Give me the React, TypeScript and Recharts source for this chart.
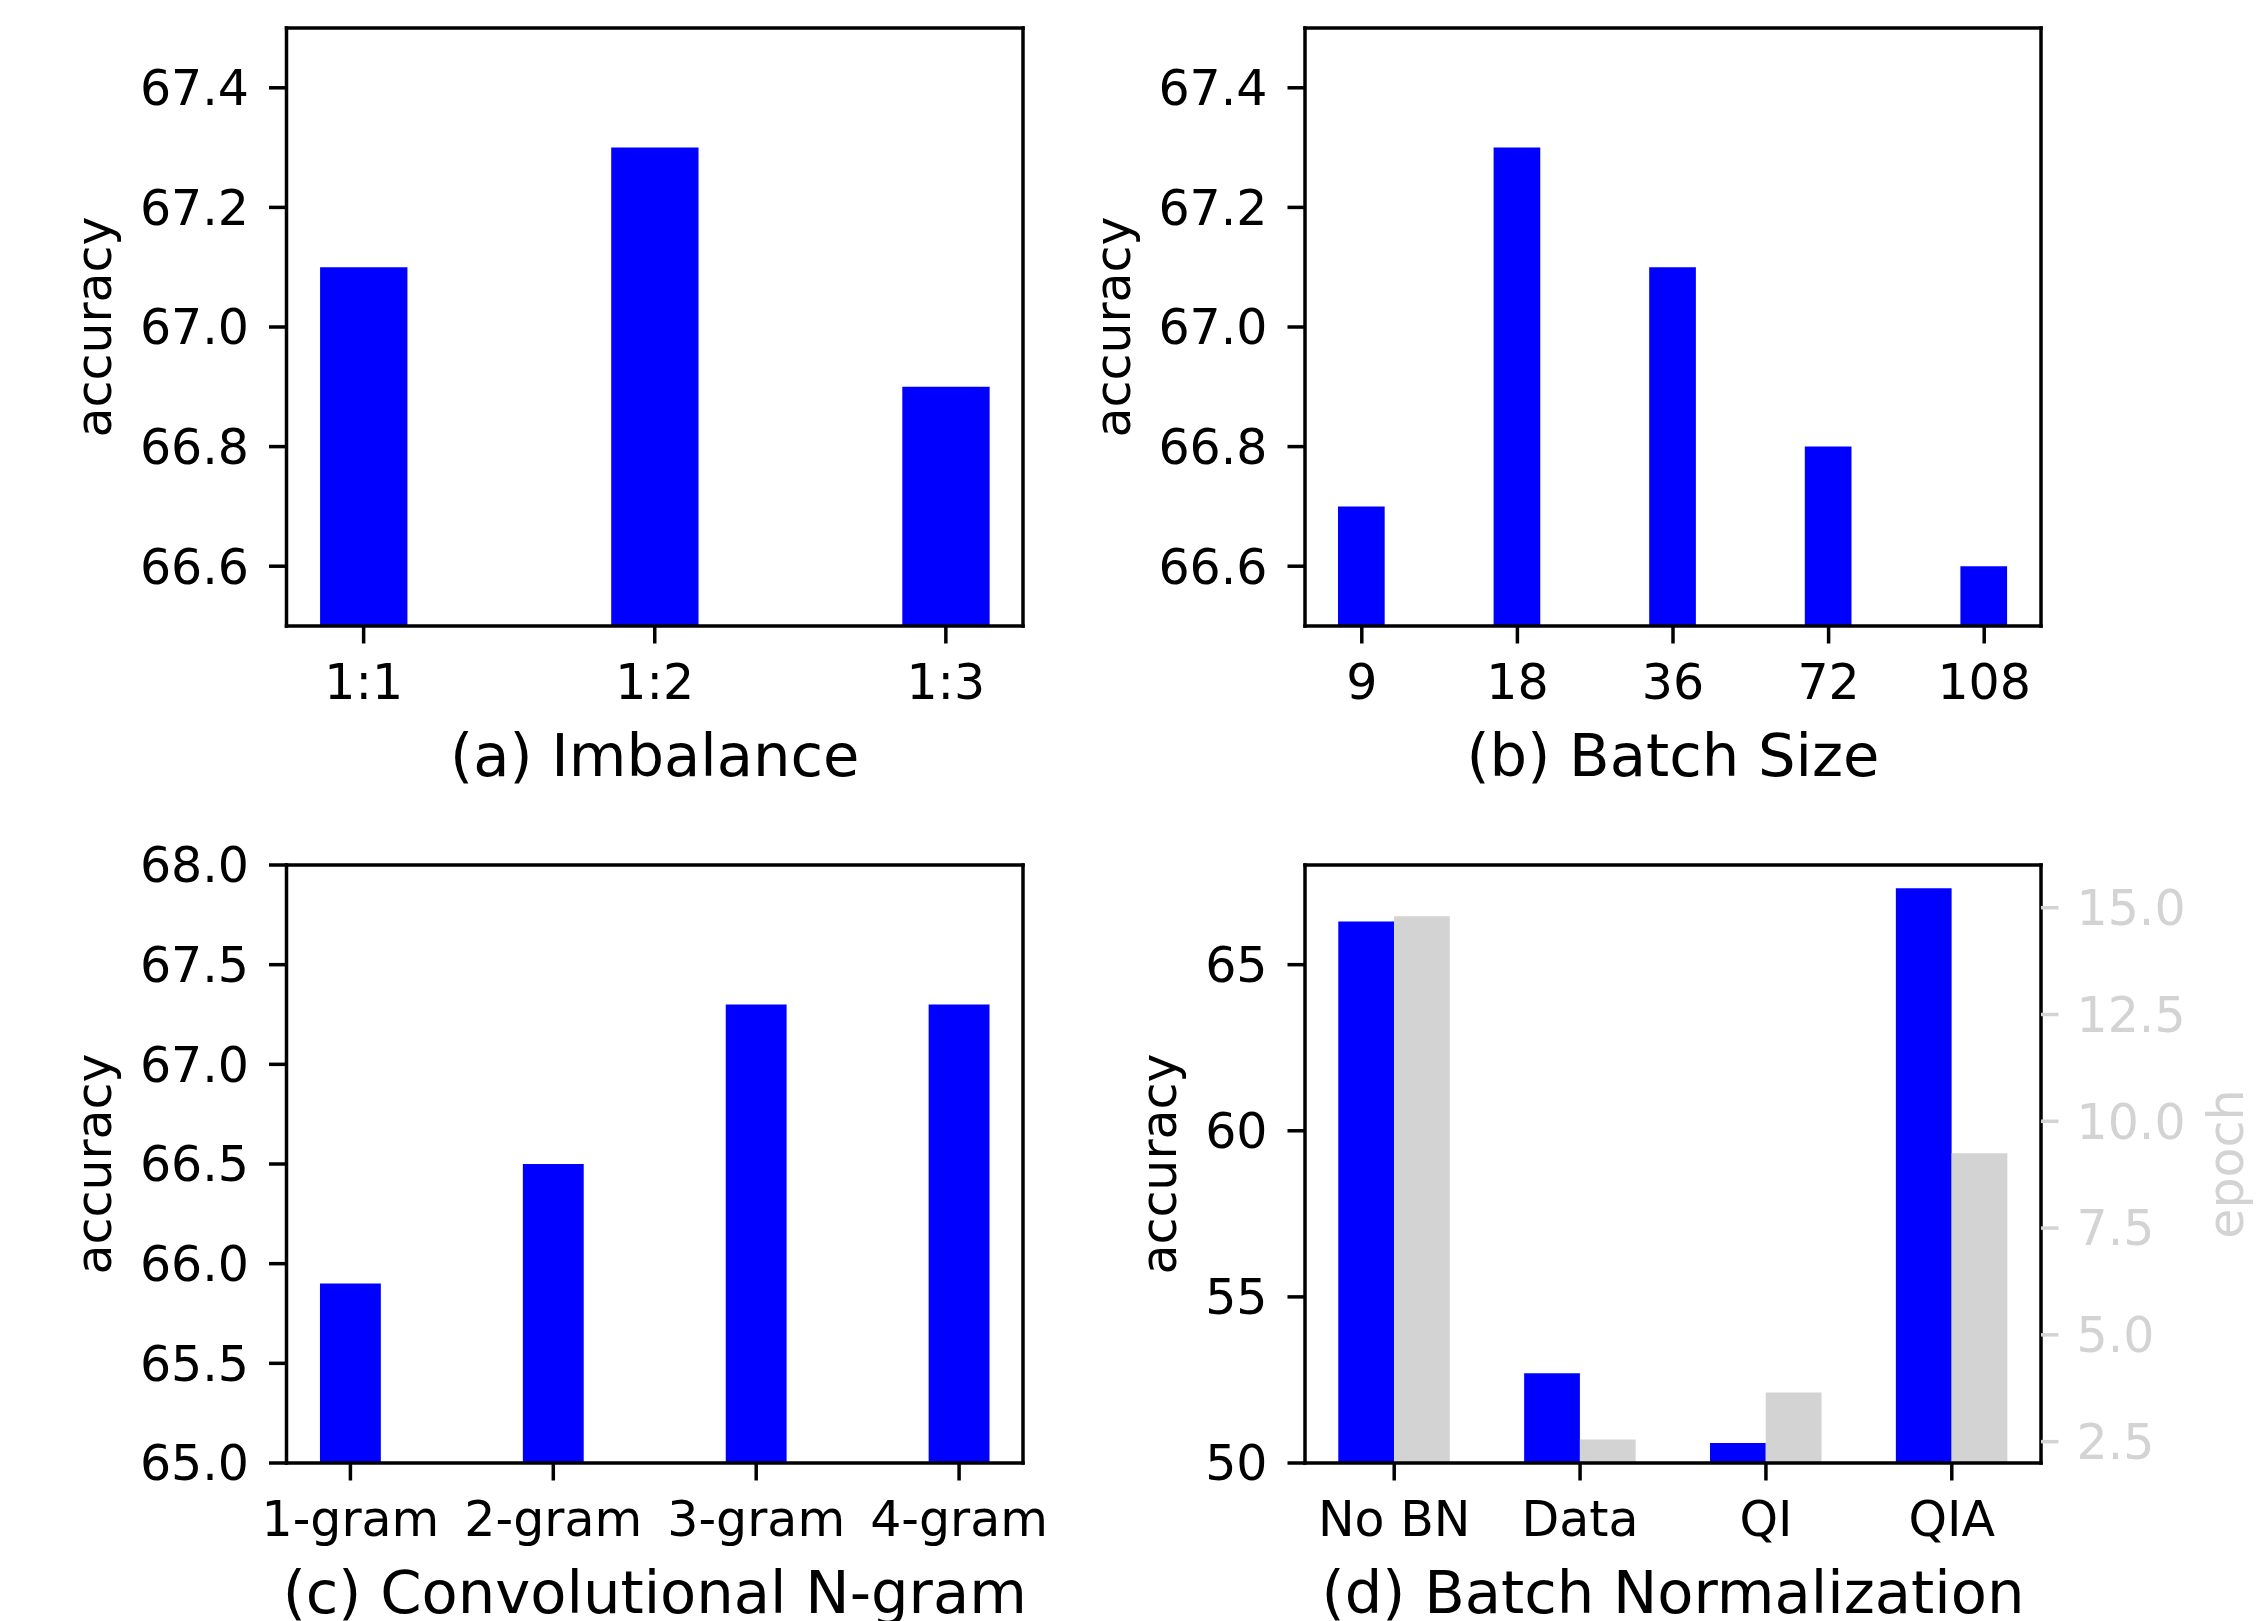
import React from 'react';
import { BarChart, Bar, XAxis, YAxis } from 'recharts';

const FONT = "'DejaVu Sans', 'Liberation Sans', sans-serif";
const BLUE = '#0000ff';
const GRAY = '#d3d3d3';
const TICK_FS = 49;
const LABEL_FS = 59.2;
const LW = 3.5;
const TICK_LEN = 17.5;

// ---- data ----
const imbalanceCats = ['1:1', '1:2', '1:3'];
const imbalanceAcc = [67.1, 67.3, 66.9];

const batchCats = ['9', '18', '36', '72', '108'];
const batchAcc = [66.7, 67.3, 67.1, 66.8, 66.6];

const ngramCats = ['1-gram', '2-gram', '3-gram', '4-gram'];
const ngramAcc = [65.9, 66.5, 67.3, 67.3];

const bnCats = ['No BN', 'Data', 'QI', 'QIA'];
const bnAcc = [66.3, 52.7, 50.6, 67.3];
const bnEpoch = [14.8, 2.55, 3.65, 9.25];

const ticksAB = [66.6, 66.8, 67.0, 67.2, 67.4];
const ticksC = [65.0, 65.5, 66.0, 66.5, 67.0, 67.5, 68.0];
const ticksDLeft = [50, 55, 60, 65];
const ticksDRight = [2.5, 5.0, 7.5, 10.0, 12.5, 15.0];

type Series = { values: number[]; color: string; axis: 'l' | 'r' };
type Rect = { x: number; y: number; w: number; h: number };
type PlotRect = { l: number; t: number; r: number; b: number };

type PanelProps = {
  box: Rect;
  plot: PlotRect;
  cats: string[];
  series: Series[];
  yDomain: [number, number];
  yTicks: number[];
  yDigits: number;
  xlabel: string;
  ylabelX: number;
  right?: { domain: [number, number]; ticks: number[]; digits: number; label: string; labelX: number };
};

function Panel(p: PanelProps) {
  const { box, plot, cats, series, yDomain, yTicks, yDigits, xlabel, ylabelX, right } = p;
  const n = cats.length;
  const groupW = 0.3 * series.length;
  const span = n - 1 + groupW;
  const xDomain: [number, number] = [-groupW / 2 - 0.05 * span, n - 1 + groupW / 2 + 0.05 * span];
  const plotW = plot.r - plot.l;
  const unitPx = plotW / (xDomain[1] - xDomain[0]);
  const barSize = 0.3 * unitPx;
  const xTicks = cats.map((_, i) => i);
  const rows = cats.map((c, i) => {
    const r: any = { x: i, cat: c };
    series.forEach((s, j) => {
      r['s' + j] = s.values[i];
    });
    return r;
  });

  const Y_W = 160;
  const R_W = right ? 160 : 1;
  const X_H = 60;
  const margin = {
    top: plot.t - box.y - 1,
    left: plot.l - box.x - Y_W,
    right: box.x + box.w - plot.r - R_W,
    bottom: box.y + box.h - plot.b - X_H,
  };
  const lx = (v: number) => v - box.x;
  const ly = (v: number) => v - box.y;
  const midY = ly((plot.t + plot.b) / 2);

  const axisLineStyle = { stroke: '#000', strokeWidth: LW, strokeLinecap: 'square' as const };
  const tickLineStyle = { stroke: '#000', strokeWidth: LW };
  const tickStyle = { fontSize: TICK_FS, fill: '#000', fontFamily: FONT };

  const xLabel = () => (
    <text
      x={lx((plot.l + plot.r) / 2)}
      y={ly(plot.b + 150)}
      textAnchor="middle"
      fontSize={LABEL_FS}
      fontFamily={FONT}
      fill="#000"
    >
      {xlabel}
    </text>
  );
  const yLabel = () => {
    const x = lx(ylabelX);
    return (
      <text
        x={x}
        y={midY}
        transform={`rotate(-90 ${x} ${midY})`}
        textAnchor="middle"
        fontSize={TICK_FS}
        fontFamily={FONT}
        fill="#000"
      >
        accuracy
      </text>
    );
  };
  const rLabel = () => {
    if (!right) return null;
    const x = lx(right.labelX);
    return (
      <text
        x={x}
        y={midY}
        transform={`rotate(-90 ${x} ${midY})`}
        textAnchor="middle"
        fontSize={TICK_FS}
        fontFamily={FONT}
        fill={GRAY}
      >
        {right.label}
      </text>
    );
  };

  return (
    <div style={{ position: 'absolute', left: box.x, top: box.y, width: box.w, height: box.h }}>
      <BarChart
        width={box.w}
        height={box.h}
        data={rows}
        margin={margin}
        barGap={0}
        style={{ fontFamily: FONT }}
      >
        <XAxis
          xAxisId="b"
          dataKey="x"
          type="number"
          domain={xDomain}
          allowDataOverflow
          ticks={xTicks}
          interval={0}
          tickFormatter={(v: number) => cats[Math.round(v)] ?? ''}
          height={X_H}
          axisLine={axisLineStyle}
          tickLine={tickLineStyle}
          tickSize={TICK_LEN}
          tickMargin={21}
          tick={tickStyle}
          label={xLabel}
        />
        <XAxis
          xAxisId="t"
          orientation="top"
          type="number"
          domain={xDomain}
          allowDataOverflow
          height={1}
          tick={false}
          tickLine={false}
          axisLine={axisLineStyle}
        />
        <YAxis
          yAxisId="l"
          type="number"
          domain={yDomain}
          allowDataOverflow
          ticks={yTicks}
          interval={0}
          tickFormatter={(v: number) => v.toFixed(yDigits)}
          width={Y_W}
          axisLine={axisLineStyle}
          tickLine={tickLineStyle}
          tickSize={TICK_LEN}
          tickMargin={20}
          tick={tickStyle}
          label={yLabel}
        />
        {right ? (
          <YAxis
            yAxisId="r"
            orientation="right"
            type="number"
            domain={right.domain}
            allowDataOverflow
            ticks={right.ticks}
            interval={0}
            tickFormatter={(v: number) => v.toFixed(right.digits)}
            width={R_W}
            axisLine={axisLineStyle}
            tickLine={{ stroke: GRAY, strokeWidth: LW }}
            tickSize={TICK_LEN}
            tickMargin={18}
            tick={{ fontSize: TICK_FS, fill: GRAY, fontFamily: FONT }}
            label={rLabel}
          />
        ) : (
          <YAxis
            yAxisId="r"
            orientation="right"
            type="number"
            domain={[0, 1]}
            width={1}
            tick={false}
            tickLine={false}
            axisLine={axisLineStyle}
          />
        )}
        {series.map((s, j) => (
          <Bar
            key={j}
            xAxisId="b"
            yAxisId={s.axis}
            dataKey={'s' + j}
            fill={s.color}
            barSize={barSize}
            isAnimationActive={false}
          />
        ))}
      </BarChart>
    </div>
  );
}

export default function App() {
  return (
    <div style={{ position: 'absolute', left: 0, top: 0, width: 2266, height: 1621, background: '#fff', overflow: 'hidden' }}>
      <Panel
        box={{ x: 0, y: 0, w: 1060, h: 810 }}
        plot={{ l: 286.5, t: 28, r: 1023, b: 626 }}
        cats={imbalanceCats}
        series={[{ values: imbalanceAcc, color: BLUE, axis: 'l' }]}
        yDomain={[66.5, 67.5]}
        yTicks={ticksAB}
        yDigits={1}
        xlabel="(a) Imbalance"
        ylabelX={110.5}
      />
      <Panel
        box={{ x: 1060, y: 0, w: 1206, h: 810 }}
        plot={{ l: 1305, t: 28, r: 2041, b: 626 }}
        cats={batchCats}
        series={[{ values: batchAcc, color: BLUE, axis: 'l' }]}
        yDomain={[66.5, 67.5]}
        yTicks={ticksAB}
        yDigits={1}
        xlabel="(b) Batch Size"
        ylabelX={1130}
      />
      <Panel
        box={{ x: 0, y: 810, w: 1060, h: 811 }}
        plot={{ l: 286.5, t: 865, r: 1023, b: 1463 }}
        cats={ngramCats}
        series={[{ values: ngramAcc, color: BLUE, axis: 'l' }]}
        yDomain={[65, 68]}
        yTicks={ticksC}
        yDigits={1}
        xlabel="(c) Convolutional N-gram"
        ylabelX={110.5}
      />
      <Panel
        box={{ x: 1060, y: 810, w: 1206, h: 811 }}
        plot={{ l: 1305, t: 865, r: 2041, b: 1463 }}
        cats={bnCats}
        series={[
          { values: bnAcc, color: BLUE, axis: 'l' },
          { values: bnEpoch, color: GRAY, axis: 'r' },
        ]}
        yDomain={[50, 68]}
        yTicks={ticksDLeft}
        yDigits={0}
        xlabel="(d) Batch Normalization"
        ylabelX={1175.5}
        right={{ domain: [2, 16], ticks: ticksDRight, digits: 1, label: 'epoch', labelX: 2243 }}
      />
    </div>
  );
}
